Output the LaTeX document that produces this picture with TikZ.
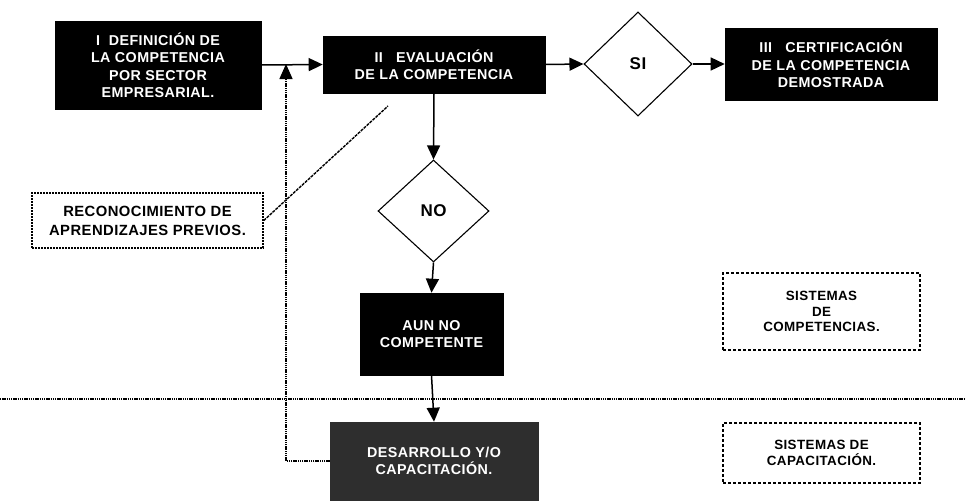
\documentclass[tikz,border=0pt]{standalone}
\usepackage{fontspec}
\setmainfont{Liberation Sans}[LetterSpace=3]
\usepackage{tikz}
\usetikzlibrary{shapes.geometric, arrows.meta, positioning}
\tikzset{
  darkbox/.style={
    rectangle, draw=black, fill=black, text=white, line width=0.6pt,
    align=center, inner sep=0pt, font=\fontsize{14.3}{17.5}\selectfont\bfseries
  },
  textbox/.style={
    rectangle, draw=black, line width=1.5pt, dash pattern=on 2pt off 1pt,
    align=center, inner sep=0pt, font=\fontsize{14.8}{19}\selectfont\bfseries
  },
  sysbox/.style={
    rectangle, draw=black, line width=2.8pt, dash pattern=on 2.6pt off 2.4pt,
    align=center, inner sep=0pt, minimum width=197pt,
    font=\fontsize{13.4}{15.5}\selectfont\bfseries
  },
  decision/.style={
    diamond, draw=black, line width=1.1pt, inner sep=0pt,
    font=\fontsize{17}{19}\selectfont\bfseries
  },
  arrow/.style={-{Triangle[length=14pt,width=13pt]}, line width=1.5pt, draw=black},
  dotline/.style={line width=1.4pt, draw=black, dash pattern=on 1.4pt off 0.8pt},
  backarrow/.style={dotline, -{Triangle[length=15pt,width=13pt]}}
}
\begin{document}
\begin{tikzpicture}[x=1pt, y=-1pt]
\useasboundingbox (0,0) rectangle (966,501);

\node[darkbox, minimum width=206pt, minimum height=88pt] (defin) at (158,65)
  {I\ \ DEFINICIÓN DE\\LA COMPETENCIA\\POR SECTOR\\EMPRESARIAL.};
\node[darkbox, minimum width=222pt, minimum height=57pt] (evalu) at (434,64.5)
  {II\ \ \ EVALUACIÓN\\DE LA COMPETENCIA};
\node[decision, minimum width=108pt, minimum height=104pt] (si) at (638,64) {SI};
\node[darkbox, minimum width=212pt, minimum height=72pt] (certif) at (831,64)
  {III\ \ \ CERTIFICACIÓN\\DE LA COMPETENCIA\\DEMOSTRADA};

\node[decision, minimum width=111pt, minimum height=102pt] (no) at (433.5,211) {NO};
\node[darkbox, minimum width=143pt, minimum height=82pt] (aunno) at (431.5,334)
  {AUN NO\\COMPETENTE};
\node[darkbox, fill=black!82, draw=black!82, minimum width=208pt, minimum height=78pt]
  (desarr) at (434,461) {DESARROLLO Y/O\\CAPACITACIÓN.};

\node[textbox, minimum width=231pt, minimum height=55pt] (recon) at (147.5,220.5)
  {RECONOCIMIENTO DE\\APRENDIZAJES PREVIOS.};
\node[sysbox, minimum height=77pt] (sistcomp) at (821.5,311.5)
  {SISTEMAS\\DE\\COMPETENCIAS.};
\node[sysbox, minimum height=60pt] (sistcap) at (821.5,453)
  {SISTEMAS DE\\CAPACITACIÓN.};

% free ends
\coordinate (fb) at (286,64);
\coordinate (evhint) at (388,106);
\coordinate (sepL) at (0,399);
\coordinate (sepR) at (966,399);

% separator between the two systems
\draw[dotline] (sepL) -- (sepR);

% main flow
\draw[arrow] (defin.east) -- (evalu.west);
\draw[arrow] (evalu.east) -- (si.west);
\draw[arrow] (si.east) -- (certif.west);
\draw[arrow] (evalu.south) -- (no.north);
\draw[arrow] (no.south) -- (aunno.north);
\draw[arrow] (aunno.south) -- (desarr.north);

% feedback to evaluation
\draw[backarrow] (desarr.west) -| (fb);
\draw[line width=1.4pt, dash pattern=on 3pt off 1pt] (recon.east) -- (evhint);

\end{tikzpicture}
\end{document}
